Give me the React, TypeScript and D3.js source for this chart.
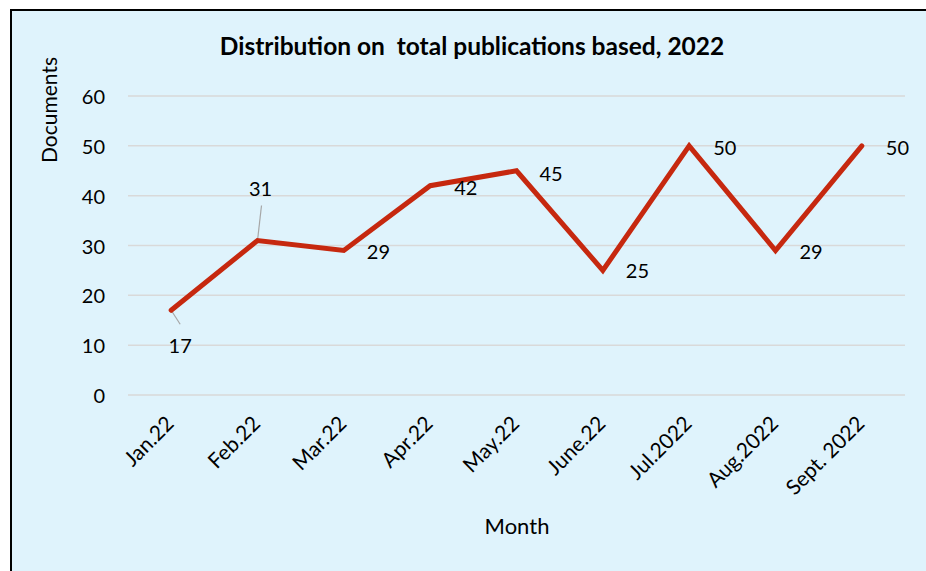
import React, { useEffect, useRef } from 'react';
import * as d3 from 'd3';

const months = ['Jan.22', 'Feb.22', 'Mar.22', 'Apr.22', 'May.22', 'June.22', 'Jul.2022', 'Aug.2022', 'Sept. 2022'];
const documents = [17, 31, 29, 42, 45, 25, 50, 29, 50];
const yTicks = [0, 10, 20, 30, 40, 50, 60];

const WIDTH = 926;
const HEIGHT = 571;
const FONT = 'Lato, "Open Sans", sans-serif';

const App = () => {
  const svgRef = useRef<SVGSVGElement>(null);

  useEffect(() => {
    const svg = d3.select(svgRef.current);
    svg.selectAll('*').remove();

    // marco y fondo
    svg.append('rect').attr('width', WIDTH).attr('height', HEIGHT).attr('fill', '#ffffff');
    svg.append('rect')
      .attr('x', 11).attr('y', 10)
      .attr('width', WIDTH + 10).attr('height', HEIGHT + 10)
      .attr('fill', '#dff3fc')
      .attr('stroke', '#000').attr('stroke-width', 2);

    const x = d3.scaleBand().domain(months).range([128, 905]);
    const y = d3.scaleLinear().domain([0, 60]).range([395, 96]);
    const cx = (m: string) => (x(m) as number) + x.bandwidth() / 2;

    // rejilla
    svg.append('g').selectAll('line')
      .data(yTicks).enter().append('line')
      .attr('x1', 128).attr('x2', 905)
      .attr('y1', d => y(d)).attr('y2', d => y(d))
      .attr('stroke', '#d9d9d9').attr('stroke-width', 1.5);

    // etiquetas eje y
    svg.append('g').selectAll('text')
      .data(yTicks).enter().append('text')
      .attr('x', 105).attr('y', d => y(d))
      .attr('text-anchor', 'end').attr('dominant-baseline', 'central')
      .attr('font-family', FONT).attr('font-size', 20).attr('fill', '#000')
      .text(d => d);

    // etiquetas eje x
    svg.append('g').selectAll('text')
      .data(months).enter().append('text')
      .attr('transform', d => `translate(${cx(d) + 4},${425}) rotate(-45)`)
      .attr('text-anchor', 'end')
      .attr('font-family', FONT).attr('font-size', 21).attr('fill', '#000')
      .text(d => d);

    // titulos
    svg.append('text')
      .attr('x', 472).attr('y', 55).attr('text-anchor', 'middle')
      .attr('font-family', FONT).attr('font-size', 24.5).attr('font-weight', 'bold')
      .attr('xml:space', 'preserve')
      .text('Distribution on  total publications based, 2022');
    svg.append('text')
      .attr('transform', 'translate(57,110) rotate(-90)')
      .attr('text-anchor', 'middle')
      .attr('font-family', FONT).attr('font-size', 21)
      .text('Documents');
    svg.append('text')
      .attr('x', 517).attr('y', 534).attr('text-anchor', 'middle')
      .attr('font-family', FONT).attr('font-size', 22)
      .text('Month');

    const pts = months.map((m, i) => ({ m, v: documents[i] }));

    // lineas guia
    const leaders = [
      { i: 0, dx: 9, dy: 14 },
      { i: 1, dx: 4, dy: -35 },
    ];
    leaders.forEach(l => {
      const p = pts[l.i];
      svg.append('line')
        .attr('x1', cx(p.m)).attr('y1', y(p.v))
        .attr('x2', cx(p.m) + l.dx).attr('y2', y(p.v) + l.dy)
        .attr('stroke', '#a6a6a6').attr('stroke-width', 1.2);
    });

    // serie
    const line = d3.line<{ m: string; v: number }>()
      .x(d => cx(d.m)).y(d => y(d.v));
    svg.append('path')
      .datum(pts)
      .attr('d', line)
      .attr('fill', 'none')
      .attr('stroke', '#c6280f')
      .attr('stroke-width', 5)
      .attr('stroke-linejoin', 'miter')
      .attr('stroke-linecap', 'round');

    // etiquetas de datos
    const offsets = [
      { dx: 9, dy: 35, anchor: 'middle' },
      { dx: 3, dy: -53, anchor: 'middle' },
      { dx: 23, dy: 1, anchor: 'start' },
      { dx: 24, dy: 1, anchor: 'start' },
      { dx: 23, dy: 2, anchor: 'start' },
      { dx: 23, dy: 0, anchor: 'start' },
      { dx: 24, dy: 1, anchor: 'start' },
      { dx: 24, dy: 1, anchor: 'start' },
      { dx: 24, dy: 1, anchor: 'start' },
    ];
    svg.append('g').selectAll('text')
      .data(pts).enter().append('text')
      .attr('x', (d, i) => cx(d.m) + offsets[i].dx)
      .attr('y', (d, i) => y(d.v) + offsets[i].dy)
      .attr('text-anchor', (d, i) => offsets[i].anchor)
      .attr('dominant-baseline', 'central')
      .attr('font-family', FONT).attr('font-size', 20).attr('fill', '#000')
      .text(d => d.v);
  }, []);

  return (
    <svg
      ref={svgRef}
      width={WIDTH}
      height={HEIGHT}
      style={{ position: 'absolute', left: 0, top: 0, display: 'block' }}
    />
  );
};

export default App;
